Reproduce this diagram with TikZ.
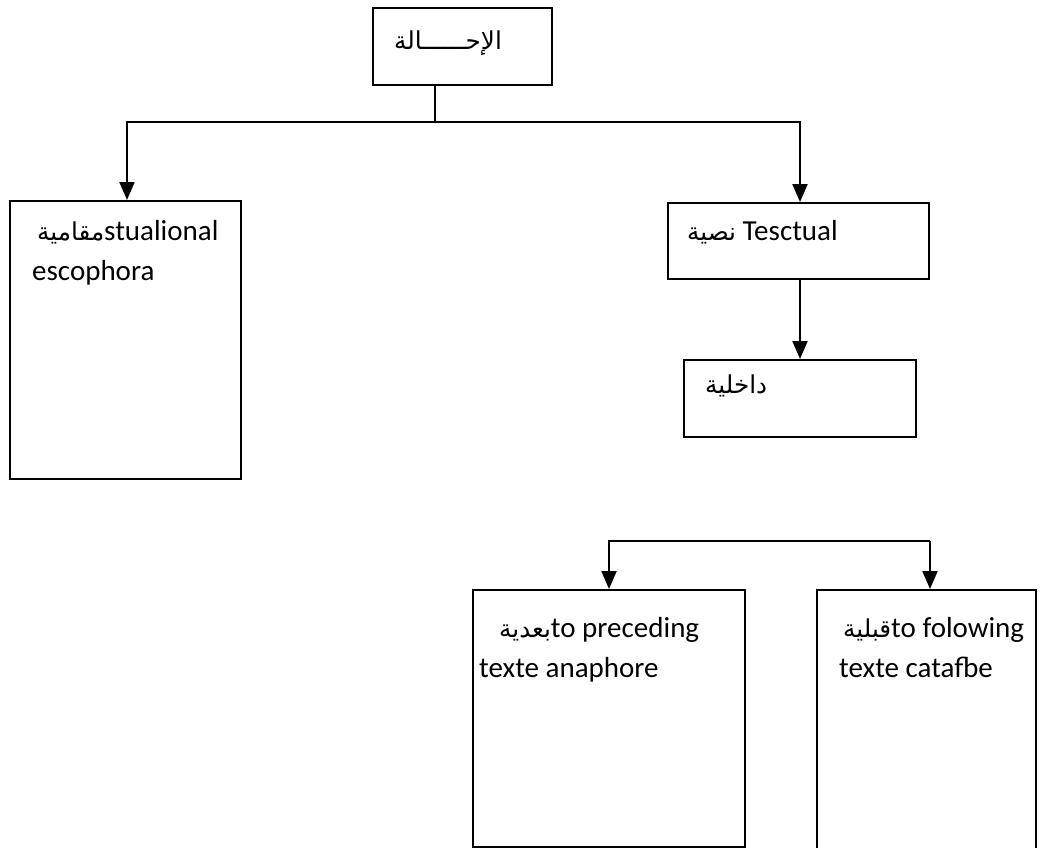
\documentclass[tikz,border=0pt]{standalone}
\usepackage{fontspec}
\setmainfont{Carlito}
\newfontfamily\arabicfont[Script=Arabic,Scale=0.85]{DejaVu Sans}
\TeXXeTstate=1
\usetikzlibrary{arrows.meta}
\newcommand{\ar}[1]{{\arabicfont\beginR #1\endR}}
\begin{document}
\begin{tikzpicture}[x=1pt,y=-1pt,
  box/.style={draw=black,line width=2pt,anchor=north west,inner sep=0pt,minimum width=#1},
  lbl/.style={anchor=base west,inner sep=0pt,font=\fontsize{29}{40}\selectfont},
  conn/.style={line width=1.8pt},
  arr/.style={line width=2.2pt,-{Triangle[width=15pt,length=18pt]}}]
\useasboundingbox (0,0) rectangle (1044,848);
% boxes
\node[box=179pt,minimum height=77pt] (top) at (372,7) {};
\node[box=231pt,minimum height=278pt] (sit) at (9,200) {};
\node[box=261pt,minimum height=76pt] (tes) at (667,202) {};
\node[box=232pt,minimum height=77pt] (dak) at (683,359) {};
\node[box=272pt,minimum height=257pt] (pre) at (472,589) {};
\node[box=219pt,minimum height=300pt] (fol) at (816,589) {};
% texts
\node[lbl,anchor=base] (ttop) at (448,50) {\ar{الإحــــــالة}};
\node[lbl] (tsit1) at (37,240) {\ar{مقامية}stualional};
\node[lbl] (tsit2) at (32,280) {escophora};
\node[lbl] (ttes) at (687,240) {\ar{نصية} Tesctual};
\node[lbl] (tdak) at (705,393) {\ar{داخلية}};
\node[lbl] (tpre1) at (499,637) {\ar{بعدية}to preceding};
\node[lbl] (tpre2) at (479,677) {texte anaphore};
\node[lbl] (tfol1) at (843,637) {\ar{قبلية}to folowing};
\node[lbl] (tfol2) at (839,677) {texte catafbe};
% connectors
\coordinate (jt) at (435,122);
\draw[conn] (top.south -| jt) -- (jt);
\draw[arr] (jt) -| (sit.north -| 127,0);
\draw[arr] (jt) -| (tes.north -| 800,0);
\draw[arr] (tes.south -| 800,0) -- (dak.north -| 800,0);
\coordinate (bk) at (768,541);
\coordinate (bR) at (930,541);
\draw[arr] (bk) -| (pre.north);
\draw[conn] (bk) -- (bR);
\draw[arr] (bR) -- (bR |- fol.north);
\end{tikzpicture}
\end{document}
